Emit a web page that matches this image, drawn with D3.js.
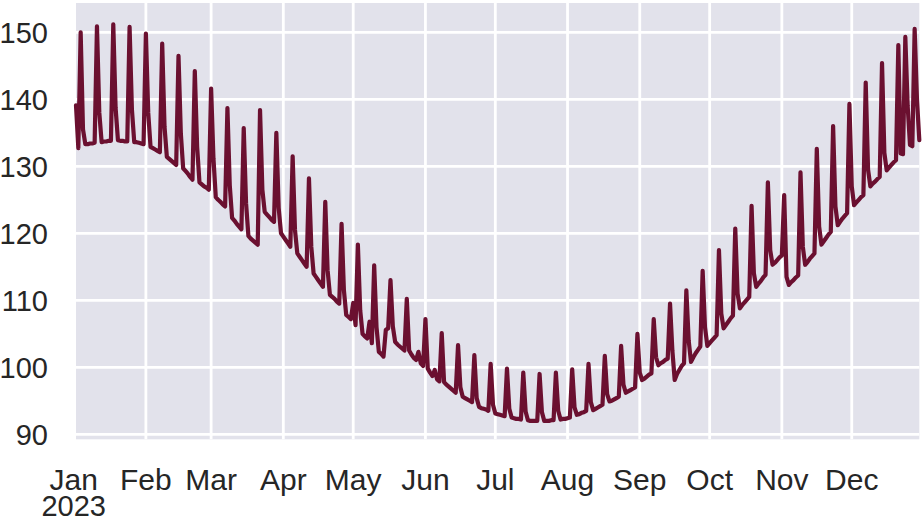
<!DOCTYPE html>
<html>
<head>
<meta charset="utf-8">
<script src="https://cdn.jsdelivr.net/npm/d3@7"></script>
<style>
  body { margin: 0; background: #fff; }
  text { font-family: "Liberation Sans", Arial, sans-serif; fill: #262626; }
</style>
</head>
<body>
<div id="vis"></div>
<script>
// daily values, series starts 2 Jan 2023
const jan = [139.1, 132.7,
  150.0, 135.5, 133.3, 133.3, 133.4, 133.4, 133.5,
  150.9, 138.0, 133.6, 133.7, 133.7, 133.8, 133.8,
  151.2, 138.7, 133.9, 133.8, 133.8, 133.7, 133.7,
  150.8, 138.5, 133.6, 133.6, 133.5, 133.4, 133.3];
const feb = [149.8, 138.0, 132.9, 132.7, 132.5, 132.3, 132.1,
  148.3, 135.9, 131.4, 131.1, 130.8, 130.5, 130.2,
  146.5, 134.9, 129.7, 129.3, 128.9, 128.4, 128.0,
  144.2, 132.9, 127.6, 127.3, 127.0, 126.8, 126.5];
const mar = [141.6, 131.2, 125.4, 125.0, 124.7, 124.3, 124.0,
  138.7, 127.2, 122.3, 121.9, 121.4, 121.0, 120.6,
  135.7, 124.5, 119.6, 119.2, 118.9, 118.6, 118.3,
  138.4, 126.5, 123.2, 122.8, 122.4, 122.0, 121.7,
  135.0, 123.8, 120.0];
const apr = [119.5, 119.0, 118.5, 118.0,
  131.5, 120.5, 117.0, 116.5, 116.0, 115.5, 115.0,
  128.2, 118.0, 114.0, 113.5, 113.0, 112.5, 112.0,
  124.7, 114.5, 110.8, 110.5, 110.2, 109.8, 109.5,
  121.4, 111.5, 107.8, 107.5, 107.2];
const may = [109.6, 106.3,
  118.3, 108.5, 105.0, 104.6, 104.3, 106.8, 103.6,
  115.2, 106.0, 102.3, 102.0, 101.6, 105.6, 105.8,
  113.0, 106.1, 103.8, 103.4, 103.1, 102.8, 102.5,
  110.2, 102.5, 101.9, 101.4, 101.1, 102.3, 100.6, 100.2];
const jun = [107.2, 99.8, 99.2, 98.7, 99.6, 98.2, 97.9,
  105.1, 97.8, 97.4, 97.1, 96.8, 96.5, 96.2,
  103.3, 97.0, 95.6, 95.4, 95.2, 95.0, 94.8,
  101.8, 95.4, 94.1, 93.9, 93.8, 93.7, 93.5,
  100.5, 94.4];
const jul = [93.1, 93.0, 92.9, 92.8, 92.7,
  99.8, 93.8, 92.5, 92.4, 92.3, 92.3, 92.2,
  99.2, 93.4, 92.1, 92.0, 92.0, 92.0, 92.0,
  99.0, 93.3, 92.0, 92.0, 92.0, 92.1, 92.1,
  99.2, 93.5, 92.2, 92.3, 92.3];
const aug = [92.4, 92.5,
  99.7, 94.0, 92.9, 93.0, 93.2, 93.3, 93.5,
  100.5, 94.8, 93.6, 93.8, 94.0, 94.2, 94.4,
  101.7, 96.0, 94.9, 95.0, 95.2, 95.4, 95.6,
  103.2, 97.4, 96.2, 96.4, 96.6, 96.8, 97.0,
  105.0];
const sep = [99.2, 98.1, 98.3, 98.6, 98.9, 99.1,
  107.2, 101.5, 100.3, 100.6, 100.8, 101.1, 101.3,
  109.5, 102.5, 98.1, 99.0, 99.6, 100.2, 100.6,
  111.5, 104.0, 100.8, 101.5, 102.1, 102.6, 103.1,
  114.4, 106.0, 103.2];
const oct = [103.6, 104.0, 104.4, 104.8,
  117.5, 108.0, 105.8, 106.3, 106.8, 107.3, 107.7,
  120.7, 111.0, 108.8, 109.3, 109.7, 110.1, 110.5,
  124.1, 114.0, 112.0, 112.5, 112.9, 113.4, 113.8,
  127.6, 117.5, 115.3, 115.6, 116.0, 116.4];
const nov = [116.7,
  125.7, 113.5, 112.3, 112.7, 113.0, 113.4, 113.7,
  129.1, 118.0, 115.3, 115.7, 116.2, 116.6, 117.0,
  132.6, 121.0, 118.3, 118.8, 119.3, 119.8, 120.2,
  136.0, 124.0, 121.2, 121.7, 122.2, 122.6, 123.0,
  139.3];
const dec = [127.0, 124.2, 124.6, 125.0, 125.4, 125.7,
  142.5, 129.5, 127.0, 127.4, 127.7, 128.1, 128.4,
  145.4, 132.0, 129.4, 129.8, 130.2, 130.6, 130.9,
  148.1, 131.9, 131.8,
  149.3, 139.0, 133.2, 133.0,
  150.5, 140.0, 133.9];

const yTicks = [90, 100, 110, 120, 130, 140, 150];
const monthLabels = ["Jan", "Feb", "Mar", "Apr", "May", "Jun", "Jul", "Aug", "Sep", "Oct", "Nov", "Dec"];

const values = [].concat(jan, feb, mar, apr, may, jun, jul, aug, sep, oct, nov, dec);
const start = new Date(Date.UTC(2023, 0, 2));
const data = values.map((v, i) => ({ date: d3.utcDay.offset(start, i), value: v }));

const W = 923, H = 522;
const pLeft = 76, pRight = 919.3, pTop = 3, pBottom = 439.3;

const svg = d3.select("#vis").append("svg").attr("width", W).attr("height", H);

const x = d3.scaleUtc().domain(d3.extent(data, d => d.date)).range([pLeft, pRight]);
const y = d3.scaleLinear().domain([89.25, 154.37]).range([pBottom, pTop]);

svg.append("rect")
  .attr("x", pLeft).attr("y", pTop)
  .attr("width", pRight - pLeft).attr("height", pBottom - pTop)
  .attr("fill", "#e2e2eb");

const months = d3.utcMonth.range(new Date(Date.UTC(2023, 0, 1)), new Date(Date.UTC(2024, 0, 1)));

// grid
svg.append("g").selectAll("line")
  .data(months.filter(m => x(m) >= pLeft))
  .enter().append("line")
  .attr("x1", d => x(d)).attr("x2", d => x(d))
  .attr("y1", pTop).attr("y2", pBottom)
  .attr("stroke", "#fff").attr("stroke-width", 2.8);

svg.append("g").selectAll("line")
  .data(yTicks)
  .enter().append("line")
  .attr("x1", pLeft).attr("x2", pRight)
  .attr("y1", d => y(d)).attr("y2", d => y(d))
  .attr("stroke", "#fff").attr("stroke-width", 2.8);

// line
svg.append("path")
  .datum(data)
  .attr("fill", "none")
  .attr("stroke", "#6b1030")
  .attr("stroke-width", 4.2)
  .attr("stroke-linejoin", "round")
  .attr("stroke-linecap", "round")
  .attr("d", d3.line().x(d => x(d.date)).y(d => y(d.value)));

// tick labels
svg.append("g").selectAll("text")
  .data(yTicks)
  .enter().append("text")
  .attr("x", 48).attr("y", d => y(d))
  .attr("dy", "0.36em")
  .attr("text-anchor", "end")
  .style("font-size", "29px")
  .text(d => d);

const xLabels = svg.append("g").selectAll("text")
  .data(months)
  .enter().append("text")
  .attr("x", d => x(d)).attr("y", 490)
  .attr("text-anchor", "middle")
  .style("font-size", "30px");

xLabels.append("tspan").text((d, i) => monthLabels[i]);

// year under the first month, same label like matplotlib's two-line tick
xLabels.filter((d, i) => i === 0)
  .append("tspan")
  .attr("x", d => x(d)).attr("dy", 26)
  .style("font-size", "29px")
  .text("2023");
</script>
</body>
</html>
